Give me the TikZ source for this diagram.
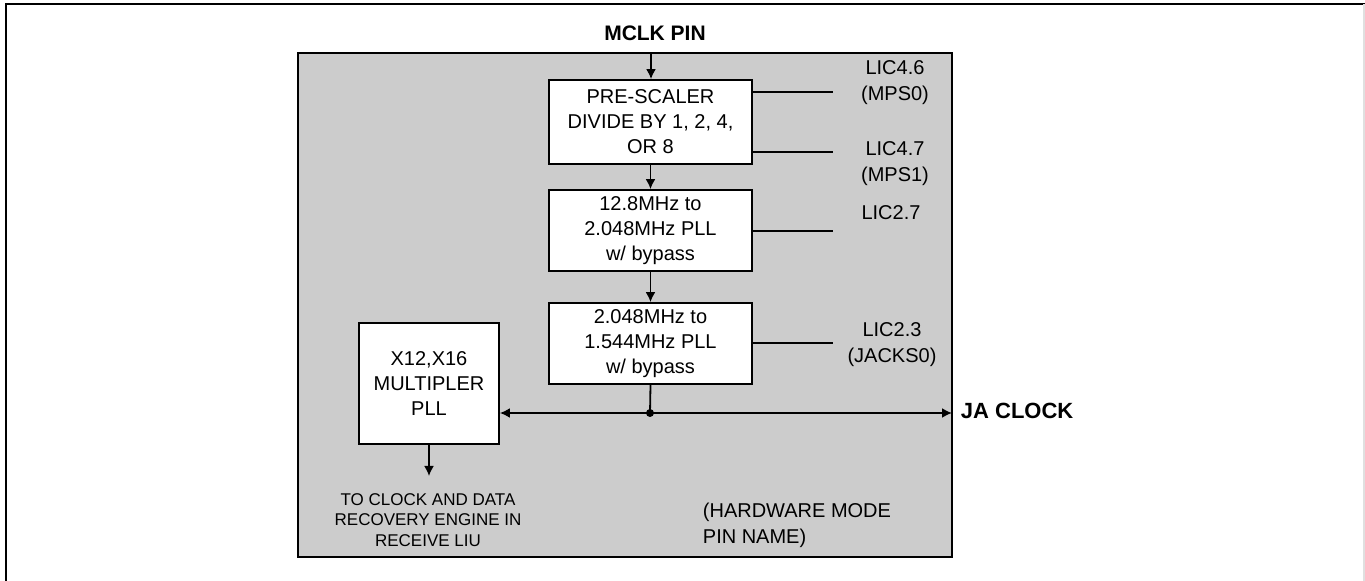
\documentclass[tikz,border=0pt]{standalone}
\usepackage{fontspec}
\setmainfont{Liberation Sans}
\usetikzlibrary{arrows.meta}
\definecolor{bggray}{RGB}{204,204,204}
\begin{document}
\begin{tikzpicture}[x=0.5pt,y=-0.5pt,
  line width=0.9pt,
  blk/.style={draw=black, fill=white, line width=0.9pt, align=center, inner sep=0pt,
    font=\fontsize{10}{12.5}\selectfont},
  lbl/.style={align=center, inner sep=0pt, font=\fontsize{10}{13}\selectfont},
  bold/.style={inner sep=0pt, font=\fontsize{11}{13}\selectfont\bfseries},
  arr/.style={-{Latex[length=5pt,width=5pt]}},
]
\useasboundingbox (0,0) rectangle (1365,581);
% outer frame
\draw[line width=1.1pt] (6,581) -- (6,4) -- (1365,4);
\draw[black!12, line width=0.6pt] (1364,4) -- (1364,581);
% gray panel
\draw[fill=bggray, line width=0.9pt] (298,53) rectangle (952,557);
% blocks
\node[blk, minimum width=101.5pt, minimum height=42pt] (pre) at (650.5,122)
  {PRE-SCALER\\DIVIDE BY 1, 2, 4,\\OR 8};
\node[blk, minimum width=101.5pt, minimum height=40.5pt] (pll1) at (650.5,230.5)
  {12.8MHz to\\2.048MHz PLL\\w/ bypass};
\node[blk, minimum width=101.5pt, minimum height=40.5pt] (pll2) at (650.5,343.5)
  {2.048MHz to\\1.544MHz PLL\\w/ bypass};
\node[blk, minimum width=70pt, minimum height=60.5pt] (mult) at (429,383.5)
  {X12,X16\\MULTIPLER\\PLL};
% texts
\node[bold, font=\fontsize{10.5}{12}\selectfont\bfseries] (mclk) at (655,33) {MCLK PIN};
\node[bold, anchor=west] (ja) at (960,411) {JA CLOCK};
\node[lbl] (l46) at (895,83) {LIC4.6\\(MPS0)};
\node[lbl] (l47) at (895,164) {LIC4.7\\(MPS1)};
\node[lbl] (l27) at (891,213) {LIC2.7};
\node[lbl] (l23) at (892,345) {LIC2.3\\(JACKS0)};
\node[lbl, align=left, anchor=west] (hw) at (702,525) {(HARDWARE MODE\\PIN NAME)};
\node[lbl, font=\fontsize{8.5}{10.25}\selectfont] (cdr) at (428,520)
  {TO CLOCK AND DATA\\RECOVERY ENGINE IN\\RECEIVE LIU};
% coordinates
\coordinate (mclkin) at (651,53);
\coordinate (junc) at (650,413);
\coordinate (jaend) at (952,413);
\coordinate (cdrend) at (428,476);
\coordinate (t46) at (833,92);
\coordinate (t47) at (833,152);
\coordinate (t27) at (833,231);
\coordinate (t23) at (833,343);
% connectors
\draw[arr] (mclkin) -- (mclkin |- pre.north);
\draw[arr] (pre.south) -- (pll1.north);
\draw[arr] (pll1.south) -- (pll2.north);
\draw (pll2.south) -- (junc);
\draw[arr] (junc) -- (jaend);
\draw[arr] (junc) -- (junc -| mult.east);
\draw[arr] (mult.south) -- (mult.south |- cdrend);
\fill (junc) circle (4);
\draw (t46 -| pre.east) -- (t46);
\draw (t47 -| pre.east) -- (t47);
\draw (t27 -| pll1.east) -- (t27);
\draw (t23 -| pll2.east) -- (t23);
\end{tikzpicture}
\end{document}
